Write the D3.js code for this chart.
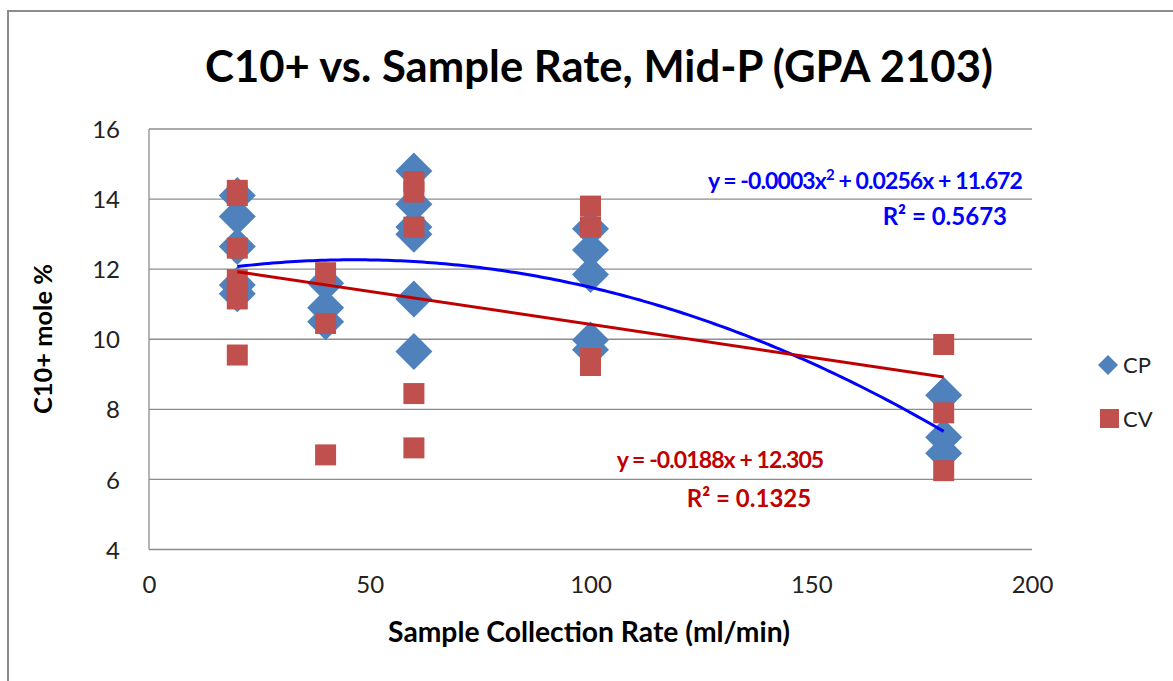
<!DOCTYPE html>
<html><head><meta charset="utf-8">
<script src="https://cdn.jsdelivr.net/npm/d3@7"></script>
<style>body{margin:0;background:#fff}svg{display:block}text{font-family:Lato,"Noto Sans",sans-serif}</style>
</head><body><svg id="c" width="1173" height="681"></svg>
<script>
const title = "C10+ vs. Sample Rate, Mid-P (GPA 2103)";
const xTitle = "Sample Collection Rate (ml/min)";
const yTitle = "C10+ mole %";
const xTicks = [0, 50, 100, 150, 200];
const yTicks = [4, 6, 8, 10, 12, 14, 16];
const cpX = [20,20,20,20,20, 40,40,40, 60,60,60,60,60,60, 100,100,100,100,100, 180,180,180];
const cpY = [14.1,13.5,12.65,11.55,11.3, 11.6,10.9,10.5, 14.8,13.85,13.2,13.0,11.15,9.65, 13.15,12.55,11.85,9.98,9.7, 8.4,7.2,6.75];
const cvX = [20,20,20,20,20,20,20, 40,40,40, 60,60,60,60,60, 100,100,100,100, 180,180,180];
const cvY = [14.25,14.1,12.6,11.7,11.45,11.15,9.55, 11.9,10.45,6.7, 14.5,14.2,13.2,8.45,6.9, 13.8,13.2,9.45,9.25, 9.85,7.9,6.25];
const cpFit = [-0.000275, 0.0256, 11.672]; // a x^2 + b x + c (label rounds a)
const cvFit = [-0.0188, 12.305];
const cpEq = ["y = -0.0003x", "2", " + 0.0256x + 11.672"];
const cpR2 = "0.5673";
const cvEq = "y = -0.0188x + 12.305";
const cvR2 = "0.1325";

const svg = d3.select("#c");
const x = d3.scaleLinear().domain([0,200]).range([149,1032]);
const y = d3.scaleLinear().domain([4,16]).range([549.5,129]);

svg.append("rect").attr("x",8).attr("y",11).attr("width",1200).attr("height",700)
  .attr("fill","#fff").attr("stroke","#8c8c8c").attr("stroke-width",2);

function fit(t, w){ const l=t.node().getComputedTextLength(); const fs=parseFloat(t.attr("font-size")); t.attr("font-size", fs*w/l); }
function fitSpacing(t, w, n){ const l=t.node().getComputedTextLength(); t.attr("letter-spacing", Math.max(-0.9,(w-l)/n)); }

svg.append("g").selectAll("line").data(yTicks).join("line")
  .attr("x1",x(0)).attr("x2",x(200)).attr("y1",d=>y(d)).attr("y2",d=>y(d))
  .attr("stroke","#8c8c8c").attr("stroke-width",1.3);
svg.append("line").attr("x1",x(0)).attr("x2",x(0)).attr("y1",y(16)).attr("y2",y(4))
  .attr("stroke","#8c8c8c").attr("stroke-width",1.3);

const ya = svg.append("g").attr("transform",`translate(${x(0)},0)`)
  .call(d3.axisLeft(y).tickValues(yTicks).tickSize(0).tickPadding(29));
ya.select(".domain").remove();
ya.selectAll("text").attr("font-size",24).attr("fill","#222").style("font-family","Lato,'Noto Sans',sans-serif").attr("dy","0.36em");
const xa = svg.append("g").attr("transform",`translate(0,${y(4)})`)
  .call(d3.axisBottom(x).tickValues(xTicks).tickSize(0).tickPadding(26));
xa.select(".domain").remove();
xa.selectAll("text").attr("font-size",24).attr("fill","#222").style("font-family","Lato,'Noto Sans',sans-serif");

const tt = svg.append("text").attr("x",599).attr("y",82).attr("text-anchor","middle")
  .attr("font-size",36).attr("font-weight","bold").attr("fill","#000").text(title);
fit(tt, 788);
const xt = svg.append("text").attr("x",589).attr("y",642).attr("text-anchor","middle")
  .attr("font-size",22).attr("font-weight","bold").attr("fill","#000").text(xTitle);
fit(xt, 402);
const yt = svg.append("text").attr("transform","translate(52,339) rotate(-90)").attr("text-anchor","middle")
  .attr("font-size",22).attr("font-weight","bold").attr("fill","#000").text(yTitle);
fit(yt, 150);

const cp = cpX.map((v,i)=>({x:v,y:cpY[i]}));
const cv = cvX.map((v,i)=>({x:v,y:cvY[i]}));
svg.append("g").selectAll("path").data(cp).join("path")
  .attr("d", d=>{const cx=x(d.x), cy=y(d.y), r=18.5; return `M${cx},${cy-r}L${cx+r},${cy}L${cx},${cy+r}L${cx-r},${cy}Z`;})
  .attr("fill","#4F81BD");
svg.append("g").selectAll("rect").data(cv).join("rect")
  .attr("x",d=>x(d.x)-10.5).attr("y",d=>y(d.y)-10.5).attr("width",21).attr("height",21)
  .attr("fill","#C0504D");

const xs = d3.range(20, 180.01, 1);
svg.append("path").datum(xs).attr("fill","none").attr("stroke","#0000FF").attr("stroke-width",3)
  .attr("d", d3.line().x(d=>x(d)).y(d=>y(cpFit[0]*d*d+cpFit[1]*d+cpFit[2])));
svg.append("path").datum([20,180]).attr("fill","none").attr("stroke","#C00000").attr("stroke-width",3)
  .attr("d", d3.line().x(d=>x(d)).y(d=>y(cvFit[0]*d+cvFit[1])));

// equations
const e1 = svg.append("text").attr("x",1022).attr("y",189).attr("text-anchor","end")
  .attr("font-size",23).attr("font-weight","bold").attr("fill","#0000FF");
e1.append("tspan").text(cpEq[0]);
e1.append("tspan").attr("dy",-9).attr("font-size",15).text(cpEq[1]);
e1.append("tspan").attr("dy",9).text(cpEq[2]);
fitSpacing(e1, 284, 32);
const r1 = svg.append("text").attr("x",1007).attr("y",225).attr("text-anchor","end")
  .attr("font-size",24).attr("font-weight","bold").attr("fill","#0000FF").text("R² = "+cpR2);
const e2 = svg.append("text").attr("x",720).attr("y",468).attr("text-anchor","middle")
  .attr("font-size",23).attr("font-weight","bold").attr("fill","#C00000").text(cvEq);
fitSpacing(e2, 200, cvEq.length);
const r2 = svg.append("text").attr("x",749).attr("y",507).attr("text-anchor","middle")
  .attr("font-size",24).attr("font-weight","bold").attr("fill","#C00000").text("R² = "+cvR2);

const lg = svg.append("g");
lg.append("path").attr("d","M1108,355L1118,365L1108,375L1098,365Z").attr("fill","#4F81BD");
lg.append("rect").attr("x",1100).attr("y",409).attr("width",19).attr("height",19).attr("fill","#C0504D");
lg.append("text").attr("x",1123).attr("y",373).attr("font-size",22).attr("fill","#222").text("CP");
lg.append("text").attr("x",1123).attr("y",427).attr("font-size",22).attr("fill","#222").text("CV");
</script></body></html>
